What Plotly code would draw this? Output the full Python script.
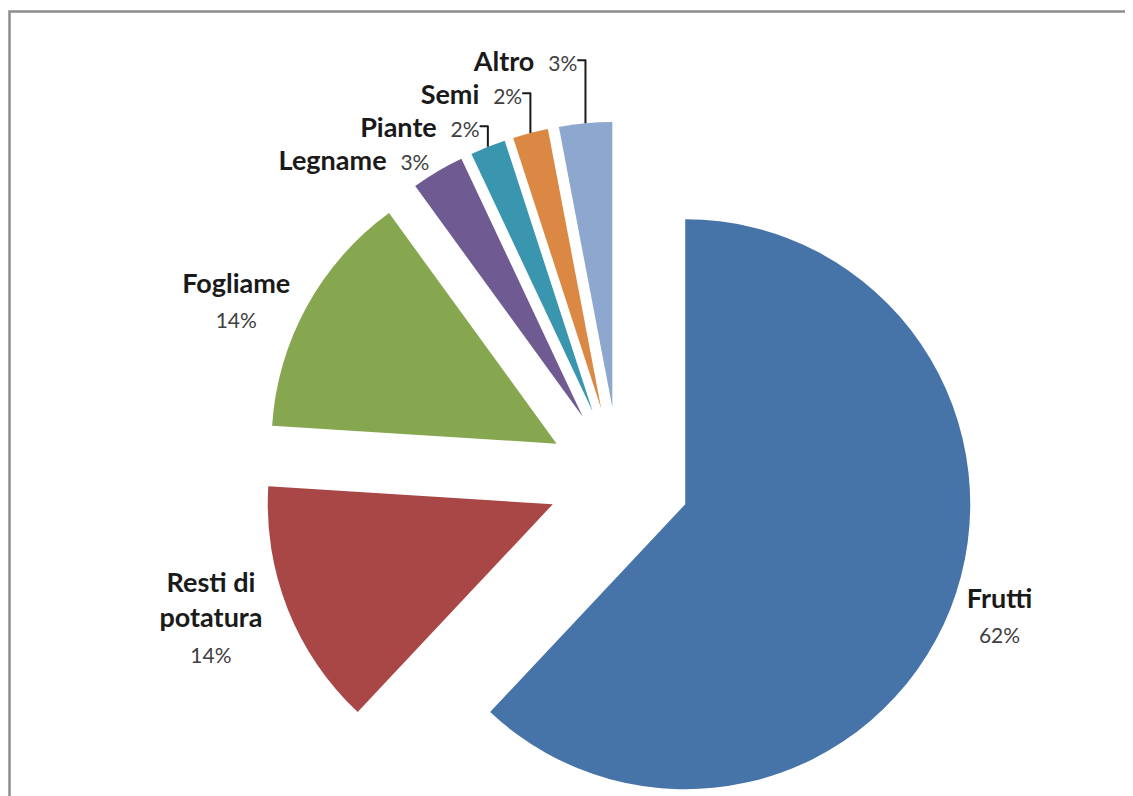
import plotly.graph_objects as go

categories = ["Frutti", "Resti di potatura", "Fogliame", "Legname", "Piante", "Semi", "Altro"]
display_labels = ["Frutti", "Resti di<br>potatura", "Fogliame", "Legname", "Piante", "Semi", "Altro"]
values = [62, 14, 14, 3, 2, 2, 3]
colors = ["#4674A8", "#A84745", "#86A650", "#6F5A92", "#3996AE", "#DB8844", "#8EA7CF"]

# label layout: big slices get the percentage on a second line, small ones on the same line
pct = "<span style='font-size:21px;color:#404040;font-weight:normal'>%{percent:.0%}</span>"
two_line = "<b>%{customdata}</b><br>" + pct
one_line = "<b>%{customdata}</b>  " + pct
templates = [two_line if v >= 10 else one_line for v in values]

W, H = 1133, 830
cx, cy, R, pull = 611, 470, 285, 0.25   # figure pixels (page adds an 8px offset)
half = R * (1 + pull)

fig = go.Figure(go.Pie(
    labels=categories,
    values=values,
    customdata=display_labels,
    sort=False,
    direction="clockwise",
    rotation=0,
    pull=pull,
    automargin=False,
    marker=dict(colors=colors, line=dict(width=0)),
    textposition="outside",
    texttemplate=templates,
    textfont=dict(family="Lato", size=27, color="#1A1A1A"),
    hoverinfo="label+percent",
    domain=dict(x=[(cx - half) / W, (cx + half) / W],
                y=[1 - (cy + half) / H, 1 - (cy - half) / H]),
))

fig.update_layout(
    width=W, height=H,
    autosize=False,
    margin=dict(l=0, r=0, t=0, b=0, autoexpand=False),
    paper_bgcolor="white",
    showlegend=False,
    shapes=[dict(type="rect", xref="paper", yref="paper",
                 x0=1.5 / W, x1=1.05, y0=-0.1, y1=1 - 3.5 / H,
                 line=dict(color="#8C8C8C", width=2.5))],
)

fig.write_html("out.html",
               post_script="document.documentElement.style.overflow='hidden';"
                           "document.body.style.overflow='hidden';")
